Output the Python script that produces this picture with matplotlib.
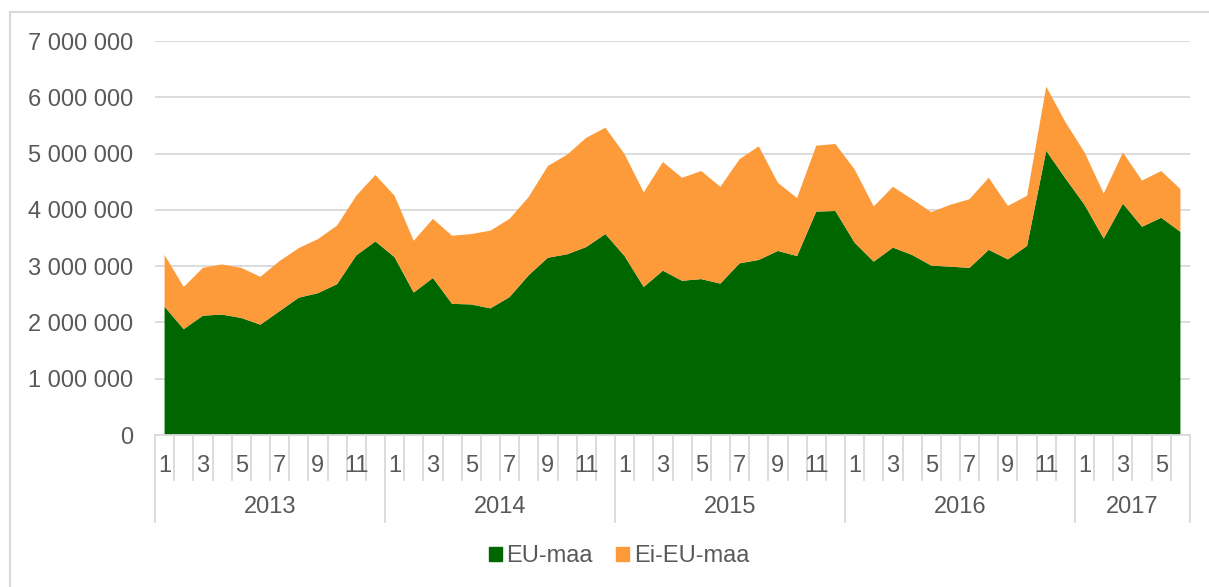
import numpy as np
import matplotlib.pyplot as plt
from matplotlib.patches import Patch
from matplotlib.lines import Line2D
from matplotlib.transforms import blended_transform_factory

plt.rcParams['font.family'] = ['Liberation Sans', 'DejaVu Sans']

# kuukausittaiset arvot 1/2013 - 6/2017
years = ['2013', '2014', '2015', '2016', '2017']
months_per_year = [12, 12, 12, 12, 6]

eu_maa = [2280000, 1880000, 2120000, 2140000, 2080000, 1960000, 2200000, 2440000, 2520000, 2680000, 3190000, 3440000,
          3160000, 2530000, 2790000, 2330000, 2320000, 2250000, 2450000, 2840000, 3150000, 3210000, 3340000, 3570000,
          3180000, 2630000, 2920000, 2740000, 2770000, 2690000, 3050000, 3110000, 3270000, 3180000, 3970000, 3980000,
          3420000, 3080000, 3330000, 3200000, 3010000, 2990000, 2970000, 3290000, 3120000, 3360000, 5050000, 4560000,
          4090000, 3490000, 4110000, 3700000, 3860000, 3610000]

ei_eu_maa = [920000, 750000, 850000, 890000, 890000, 850000, 890000, 880000, 960000, 1040000, 1060000, 1180000,
             1090000, 920000, 1050000, 1210000, 1250000, 1380000, 1390000, 1390000, 1630000, 1770000, 1940000, 1890000,
             1810000, 1680000, 1930000, 1830000, 1920000, 1720000, 1850000, 2020000, 1210000, 1030000, 1170000, 1190000,
             1300000, 980000, 1080000, 990000, 950000, 1100000, 1220000, 1280000, 950000, 890000, 1140000, 1000000,
             930000, 800000, 910000, 820000, 830000, 760000]

green = '#006600'
orange = '#FD9A39'
grid_c = '#D9D9D9'
txt_c = '#595959'

W, H = 1209, 587
fig = plt.figure(figsize=(W / 100, H / 100), dpi=100)
ax = fig.add_axes([155 / W, 1 - 435 / H, (1190 - 155) / W, (435 - 41) / H])

x = np.arange(len(eu_maa))
ax.stackplot(x, eu_maa, ei_eu_maa, colors=[green, orange], linewidth=0)

ax.set_xlim(-0.5, len(eu_maa) - 0.5)
ax.set_ylim(0, 7000000)
ax.set_yticks(np.arange(0, 7000001, 1000000))
ax.set_yticklabels([f"{int(v):,}".replace(",", " ") for v in ax.get_yticks()])
ax.tick_params(axis='y', length=0, pad=16, labelsize=17, labelcolor=txt_c)
ax.set_xticks([])
ax.grid(axis='y', color=grid_c, linewidth=1.3)
ax.set_axisbelow(True)
for s in ['top', 'right', 'left']:
    ax.spines[s].set_visible(False)
ax.spines['bottom'].set_color(grid_c)
ax.spines['bottom'].set_linewidth(1.3)

# monitasoinen luokka-akseli
tr = blended_transform_factory(ax.transData, ax.transAxes)
ah = 435 - 41
def yfrac(py):
    return -(py - 435) / ah

i = 0
for yr, n in zip(years, months_per_year):
    ax.plot([i - 0.5, i - 0.5], [0, yfrac(522)], color=grid_c, lw=1.3, transform=tr, clip_on=False)
    for m in range(n):
        if m > 0:
            ax.plot([i + m - 0.5, i + m - 0.5], [0, yfrac(480)], color=grid_c, lw=1.3, transform=tr, clip_on=False)
        if m % 2 == 0:
            ax.text(i + m, yfrac(466), str(m + 1), transform=tr, ha='center', va='center',
                    fontsize=17, color=txt_c)
    ax.text(i + (n - 1) / 2, yfrac(507), yr, transform=tr, ha='center', va='center',
            fontsize=17, color=txt_c)
    i += n
ax.plot([i - 0.5, i - 0.5], [0, yfrac(522)], color=grid_c, lw=1.3, transform=tr, clip_on=False)

# kaavion reunus
fig.add_artist(Line2D([10 / W, 10 / W, 1.0], [0.0, 1 - 12 / H, 1 - 12 / H], color=grid_c, lw=1.5))

handles = [Patch(color=green, label='EU-maa'), Patch(color=orange, label='Ei-EU-maa')]
fig.legend(handles=handles, loc='center', bbox_to_anchor=(619 / W, 1 - 556 / H), ncol=2, frameon=False,
           fontsize=17, labelcolor=txt_c, handlelength=0.55, handleheight=0.55, handletextpad=0.2,
           columnspacing=1.0)

fig.savefig('out.png', dpi=100)
